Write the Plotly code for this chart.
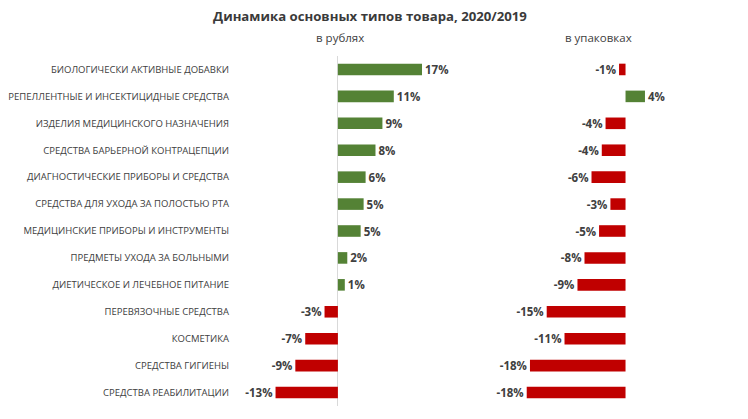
import plotly.graph_objects as go

categories = [
    "БИОЛОГИЧЕСКИ АКТИВНЫЕ ДОБАВКИ",
    "РЕПЕЛЛЕНТНЫЕ И ИНСЕКТИЦИДНЫЕ СРЕДСТВА",
    "ИЗДЕЛИЯ МЕДИЦИНСКОГО НАЗНАЧЕНИЯ",
    "СРЕДСТВА БАРЬЕРНОЙ КОНТРАЦЕПЦИИ",
    "ДИАГНОСТИЧЕСКИЕ ПРИБОРЫ И СРЕДСТВА",
    "СРЕДСТВА ДЛЯ УХОДА ЗА ПОЛОСТЬЮ РТА",
    "МЕДИЦИНСКИЕ ПРИБОРЫ И ИНСТРУМЕНТЫ",
    "ПРЕДМЕТЫ УХОДА ЗА БОЛЬНЫМИ",
    "ДИЕТИЧЕСКОЕ И ЛЕЧЕБНОЕ ПИТАНИЕ",
    "ПЕРЕВЯЗОЧНЫЕ СРЕДСТВА",
    "КОСМЕТИКА",
    "СРЕДСТВА ГИГИЕНЫ",
    "СРЕДСТВА РЕАБИЛИТАЦИИ",
]
rub_values = [17.0, 11.3, 9.0, 7.6, 5.6, 5.2, 4.6, 1.9, 1.4, -2.7, -6.6, -8.6, -12.6]
pack_values = [-1.2, 3.6, -3.7, -4.4, -6.3, -2.8, -4.9, -7.6, -8.9, -14.6, -11.3, -17.7, -18.3]

title_text = "Динамика основных типов товара, 2020/2019"
panel_titles = ["в рублях", "в упаковках"]

GREEN = "#548235"
RED = "#C00000"
TXT = "#404040"
# page body has an 8px margin, so the figure is drawn 8px smaller and offset
OFF = 8
W, H = 748 - OFF, 419 - OFF
MT, MB = 47.5, 12.8


def colors(vals):
    return [GREEN if v >= 0 else RED for v in vals]


def px_x(px):
    return (px - OFF) / W


def paper_y(py):
    return (H - MB - (py - OFF)) / (H - MT - MB)


fig = go.Figure()
for vals, xa, ya in [(rub_values, "x", "y"), (pack_values, "x2", "y2")]:
    fig.add_trace(go.Bar(
        x=vals, y=categories, orientation="h",
        marker=dict(color=colors(vals), line=dict(width=0)),
        width=0.43,
        texttemplate="%{x:.0f}%", textposition="outside",
        constraintext="none",
        textfont=dict(family="Open Sans", size=11.5, color=TXT, weight="bold"),
        cliponaxis=False, xaxis=xa, yaxis=ya, showlegend=False,
    ))

fig.update_layout(
    width=W, height=H,
    margin=dict(l=0, r=0, t=MT, b=MB),
    plot_bgcolor="white", paper_bgcolor="white",
    font=dict(family="Open Sans", color=TXT),
    title=dict(text="<b>" + title_text + "</b>", x=(370 - OFF) / W, xanchor="center",
               yref="container", y=1 - (16 - OFF) / H, yanchor="middle",
               font=dict(family="Open Sans", size=13.2, color="#3a3a3a")),
    xaxis=dict(domain=[px_x(232), px_x(470)], range=[-21.4, 26.7],
               showgrid=False, showticklabels=False, zeroline=True,
               zerolinecolor="#d9d9d9", zerolinewidth=1, fixedrange=True),
    xaxis2=dict(domain=[px_x(490), px_x(740)], range=[-25.1, 21.2],
                showgrid=False, showticklabels=False, zeroline=False,
                fixedrange=True),
    yaxis=dict(anchor="x", autorange="reversed", showgrid=False,
               ticks="", ticklabelstandoff=2, automargin=False,
               tickfont=dict(family="Open Sans", size=9.5, color=TXT)),
    yaxis2=dict(anchor="x2", autorange="reversed", showgrid=False,
                showticklabels=False, matches="y"),
    annotations=[
        dict(text=panel_titles[0], x=px_x(340), y=paper_y(36.5), xref="paper", yref="paper",
             showarrow=False, xanchor="center", yanchor="middle",
             font=dict(family="Open Sans", size=11.5, color=TXT)),
        dict(text=panel_titles[1], x=px_x(598), y=paper_y(36.5), xref="paper", yref="paper",
             showarrow=False, xanchor="center", yanchor="middle",
             font=dict(family="Open Sans", size=11.5, color=TXT)),
    ],
)

fig.write_html("out.html")
